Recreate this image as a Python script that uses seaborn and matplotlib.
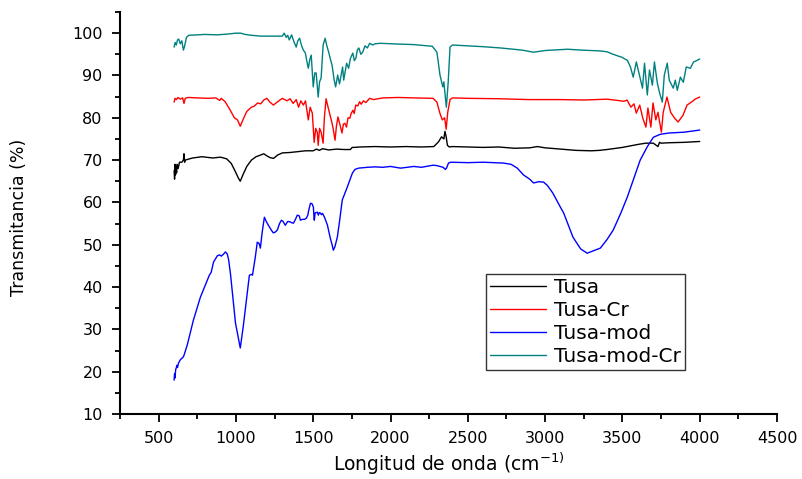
import numpy as np
import pandas as pd
import matplotlib
matplotlib.use("Agg")
import matplotlib.pyplot as plt
from matplotlib.ticker import MultipleLocator
import seaborn as sns

# FTIR spectra: wavenumber (cm-1) and transmittance (%)
tusa_x = [600, 603, 606, 609, 612, 616, 620, 626, 635, 650, 660, 664, 668, 672, 690, 720, 780,
          850, 900, 940, 970, 1000, 1015, 1028, 1045, 1070, 1100, 1130, 1160, 1180, 1200, 1220,
          1243, 1270, 1300, 1350, 1400, 1450, 1500, 1520, 1540, 1560, 1600, 1650, 1700, 1740,
          1752, 1765, 1800, 1900, 2000, 2100, 2200, 2280, 2310, 2330, 2345, 2352, 2360, 2368,
          2380, 2400, 2500, 2600, 2700, 2800, 2900, 2950, 3000, 3100, 3200, 3300, 3350, 3400,
          3500, 3600, 3650, 3700, 3730, 3740, 3750, 3800, 3900, 4000]
tusa_y = [67.5, 65.5, 69.0, 66.5, 68.5, 67.0, 69.0, 68.0, 69.5, 69.5, 70.0, 71.5, 69.5, 70.0,
          70.2, 70.5, 70.8, 70.5, 70.7, 70.3, 69.2, 67.0, 65.8, 65.0, 66.5, 68.5, 70.0, 70.8,
          71.2, 71.5, 71.0, 70.6, 70.4, 71.2, 71.7, 71.8, 72.0, 72.2, 72.2, 72.6, 72.3, 72.7,
          72.4, 72.6, 72.5, 72.5, 73.0, 73.0, 73.1, 73.2, 73.1, 73.2, 73.1, 73.2, 74.3, 75.5,
          75.0, 76.8, 75.5, 73.5, 73.1, 73.2, 73.1, 73.0, 73.1, 72.8, 72.9, 73.2, 72.9, 72.6,
          72.3, 72.2, 72.3, 72.5, 73.0, 73.7, 74.0, 74.0, 73.2, 74.2, 74.0, 74.1, 74.2, 74.4]

tusa_cr_x = [600, 606, 615, 625, 640, 655, 664, 672, 690, 750, 820, 870, 895, 905, 930, 960,
             990, 1010, 1028, 1045, 1070, 1100, 1120, 1140, 1160, 1180, 1200, 1220, 1242, 1270,
             1300, 1330, 1350, 1370, 1390, 1405, 1420, 1436, 1450, 1468, 1480, 1494, 1506, 1516,
             1526, 1532, 1541, 1551, 1564, 1572, 1583, 1596, 1609, 1620, 1628, 1641, 1650, 1660,
             1672, 1686, 1695, 1705, 1715, 1725, 1737, 1745, 1757, 1765, 1775, 1788, 1800, 1810,
             1825, 1840, 1865, 1890, 1950, 2050, 2150, 2275, 2300, 2320, 2335, 2350, 2360, 2370,
             2385, 2400, 2500, 2700, 2900, 3100, 3250, 3400, 3470, 3510, 3530, 3555, 3575, 3590,
             3612, 3632, 3652, 3665, 3684, 3698, 3716, 3730, 3752, 3764, 3788, 3812, 3838, 3860,
             3892, 3918, 3950, 3970, 4000]
tusa_cr_y = [83.7, 84.6, 84.3, 84.8, 84.4, 84.7, 83.4, 84.6, 84.8, 84.7, 84.6, 84.7, 84.1, 84.6,
             83.8, 82.0, 80.0, 79.5, 78.0, 79.5, 81.5, 82.5, 82.8, 83.5, 83.3, 84.2, 84.6, 83.7,
             83.0, 83.8, 84.6, 84.0, 84.5, 83.4, 84.3, 82.5, 84.0, 83.0, 84.0, 79.5, 82.5, 81.1,
             74.2, 77.5, 76.6, 73.5, 77.5, 76.6, 74.0, 80.0, 84.5, 82.5, 80.6, 79.0, 77.6, 74.7,
             78.0, 80.2, 78.5, 76.4, 78.5, 78.7, 77.8, 80.0, 79.9, 81.0, 81.8, 81.0, 83.0, 82.8,
             83.8, 83.2, 84.0, 83.6, 84.6, 84.3, 84.7, 84.8, 84.7, 84.6, 83.7, 81.0, 79.5, 80.0,
             77.3, 81.3, 84.3, 84.7, 84.6, 84.5, 84.3, 84.3, 84.2, 84.4, 84.1, 83.9, 84.2, 82.5,
             83.3, 81.1, 83.0, 79.9, 77.8, 82.3, 77.8, 83.5, 79.5, 81.3, 76.6, 81.3, 84.9, 81.3,
             79.9, 79.0, 80.6, 83.0, 83.8, 84.4, 84.9]

tusa_mod_x = [600, 603, 606, 610, 614, 618, 622, 628, 640, 660, 665, 685, 725, 770, 828, 840,
              855, 880, 895, 905, 920, 932, 944, 953, 965, 977, 997, 1015, 1028, 1047, 1068,
              1087, 1100, 1107, 1125, 1138, 1150, 1158, 1170, 1184, 1196, 1210, 1228, 1242, 1255,
              1268, 1282, 1294, 1305, 1319, 1335, 1352, 1360, 1372, 1385, 1397, 1410, 1417, 1430,
              1444, 1456, 1465, 1470, 1482, 1492, 1501, 1505, 1507, 1512, 1527, 1533, 1540, 1546,
              1553, 1560, 1573, 1592, 1610, 1622, 1630, 1640, 1656, 1670, 1688, 1720, 1753, 1770,
              1793, 1850, 1900, 1950, 2000, 2065, 2150, 2200, 2275, 2300, 2340, 2355, 2362, 2375,
              2390, 2500, 2600, 2730, 2780, 2820, 2860, 2900, 2925, 2960, 2990, 3015, 3050, 3100,
              3120, 3180, 3230, 3272, 3300, 3357, 3400, 3441, 3490, 3532, 3570, 3615, 3660, 3700,
              3745, 3800, 3900, 4000]
tusa_mod_y = [18.0, 19.5, 18.5, 20.5, 20.9, 21.5, 21.0, 22.0, 22.8, 23.5, 24.0, 26.3, 32.2,
              37.6, 42.8, 43.5, 45.9, 47.4, 47.6, 47.3, 47.8, 48.3, 47.8, 46.4, 43.0, 38.6, 31.5,
              28.0, 25.6, 30.6, 36.9, 42.8, 43.0, 42.8, 47.0, 50.6, 50.3, 49.2, 53.0, 56.5, 55.5,
              54.6, 53.5, 52.8, 53.0, 53.5, 55.0, 55.8, 55.5, 54.6, 55.5, 55.4, 55.2, 55.1, 56.0,
              57.0, 56.8, 55.8, 56.0, 56.0, 56.3, 57.0, 58.0, 59.8, 59.7, 58.9, 56.5, 55.8, 57.5,
              57.7, 57.0, 57.6, 57.5, 57.1, 57.4, 56.5, 54.6, 51.6, 50.0, 48.7, 49.5, 51.8, 55.5,
              60.6, 63.6, 66.9, 67.8, 68.1, 68.3, 68.4, 68.3, 68.5, 68.1, 68.5, 68.3, 68.8, 68.7,
              68.3, 67.8, 68.1, 69.3, 69.5, 69.4, 69.5, 69.3, 69.0, 68.1, 66.5, 65.5, 64.6, 64.9,
              64.8, 64.0, 62.2, 58.8, 57.5, 51.8, 49.0, 48.0, 48.4, 49.2, 51.2, 53.5, 57.5, 61.3,
              65.3, 70.0, 73.1, 75.4, 76.1, 76.4, 76.6, 77.1]

tusa_mod_cr_x = [600, 607, 614, 622, 630, 640, 650, 660, 667, 680, 695, 750, 800, 880, 950,
                 1000, 1030, 1060, 1100, 1160, 1230, 1300, 1312, 1325, 1335, 1345, 1360, 1375,
                 1390, 1400, 1412, 1425, 1436, 1449, 1458, 1468, 1478, 1487, 1500, 1510, 1519,
                 1532, 1541, 1551, 1564, 1577, 1588, 1600, 1610, 1622, 1635, 1645, 1658, 1670,
                 1677, 1690, 1697, 1716, 1729, 1740, 1756, 1766, 1776, 1785, 1795, 1808, 1820,
                 1835, 1850, 1865, 1885, 1900, 1935, 2000, 2065, 2150, 2270, 2300, 2320, 2338,
                 2345, 2361, 2373, 2385, 2400, 2500, 2600, 2712, 2850, 2925, 3000, 3145, 3232,
                 3357, 3400, 3441, 3480, 3497, 3520, 3532, 3552, 3570, 3590, 3610, 3630, 3643,
                 3661, 3675, 3694, 3707, 3726, 3739, 3758, 3771, 3790, 3803, 3829, 3842, 3855,
                 3875, 3894, 3913, 3940, 3960, 3980, 4000]
tusa_mod_cr_y = [96.7, 97.8, 97.2, 98.4, 98.6, 97.5, 98.2, 96.0, 96.8, 99.0, 99.5, 99.6, 99.7,
                 99.6, 99.8, 100.0, 100.0, 99.7, 99.5, 99.3, 99.3, 99.3, 100.0, 99.0, 99.5, 98.4,
                 99.6, 98.0, 96.7, 98.2, 98.8, 97.0, 96.0, 95.3, 93.5, 91.7, 93.8, 94.8, 87.3,
                 90.6, 90.6, 84.9, 88.5, 89.4, 97.2, 98.8, 97.0, 95.5, 94.0, 92.4, 89.0, 87.3,
                 90.1, 88.0, 89.4, 92.0, 88.9, 92.9, 91.7, 94.0, 95.3, 93.5, 94.1, 96.0, 96.5,
                 95.0, 95.5, 97.0, 96.5, 97.6, 97.2, 97.5, 97.6, 97.5, 97.4, 97.3, 96.9, 95.5,
                 90.1, 87.3, 88.5, 82.5, 88.4, 96.7, 97.2, 97.0, 96.8, 96.5, 96.0, 95.5, 95.9,
                 96.2, 96.0, 95.8, 95.6, 95.0, 94.5, 94.3, 93.8, 93.6, 92.0, 89.6, 93.2, 90.1,
                 87.0, 92.9, 85.4, 91.3, 87.7, 93.2, 88.2, 86.1, 83.7, 90.1, 92.9, 88.9, 87.0,
                 88.9, 86.5, 89.6, 88.4, 92.0, 91.7, 93.2, 93.5, 93.9]

series_names = ["Tusa", "Tusa-Cr", "Tusa-mod", "Tusa-mod-Cr"]
series_colors = ["#000000", "#FF0000", "#0000FF", "#008080"]

frames = []
for name, xs, ys in zip(series_names,
                        [tusa_x, tusa_cr_x, tusa_mod_x, tusa_mod_cr_x],
                        [tusa_y, tusa_cr_y, tusa_mod_y, tusa_mod_cr_y]):
    frames.append(pd.DataFrame({"wavenumber": xs, "T": ys, "muestra": name}))
df = pd.concat(frames, ignore_index=True)

sns.set_style("ticks")
plt.rcParams["font.family"] = ["DejaVu Sans"]
plt.rcParams["mathtext.fontset"] = "dejavusans"
plt.rcParams["text.color"] = "black"
plt.rcParams["axes.labelcolor"] = "black"

fig = plt.figure(figsize=(8.02, 4.79), dpi=100)
ax = fig.add_axes([120 / 802, 65 / 479, (777 - 120) / 802, (414 - 12) / 479])

sns.lineplot(data=df, x="wavenumber", y="T", hue="muestra", hue_order=series_names,
             palette=series_colors, sort=False, estimator=None, linewidth=1.0, ax=ax,
             legend=False)

ax.set_xlim(250, 4500)
ax.set_ylim(10, 105)
ax.xaxis.set_minor_locator(MultipleLocator(250))
ax.yaxis.set_minor_locator(MultipleLocator(5))
ax.set_xticks([500, 1000, 1500, 2000, 2500, 3000, 3500, 4000, 4500])
ax.set_yticks(list(range(10, 101, 10)))

for side in ["top", "right"]:
    ax.spines[side].set_visible(False)
for side in ["left", "bottom"]:
    ax.spines[side].set_linewidth(1.5)
    ax.spines[side].set_color("black")

ax.tick_params(axis="both", which="major", direction="out", length=6, width=1.3,
               labelsize=11.5, colors="black", pad=6.5)
ax.tick_params(axis="both", which="minor", direction="out", length=3.5, width=1.3,
               colors="black")

ax.set_xlabel(r"Longitud de onda (cm$^{\mathregular{-1)}}$", fontsize=13.5, labelpad=3)
ax.set_ylabel("Transmitancia (%)", fontsize=12.5)
ax.yaxis.set_label_coords((28 - 120) / 657, (414 - 217) / 402)

handles = [plt.Line2D([], [], color=c, linewidth=1.0) for c in series_colors]
leg = ax.legend(handles, series_names, loc="upper left",
                bbox_to_anchor=(486 / 802, 1 - 274 / 479), bbox_transform=fig.transFigure,
                borderaxespad=0, frameon=True, fancybox=False, fontsize=14.5,
                handlelength=2.8, handletextpad=0.4, labelspacing=0.2, borderpad=0.2)
leg.get_frame().set_edgecolor("black")
leg.get_frame().set_linewidth(1.0)

fig.savefig("out.png", dpi=100, facecolor="white")
